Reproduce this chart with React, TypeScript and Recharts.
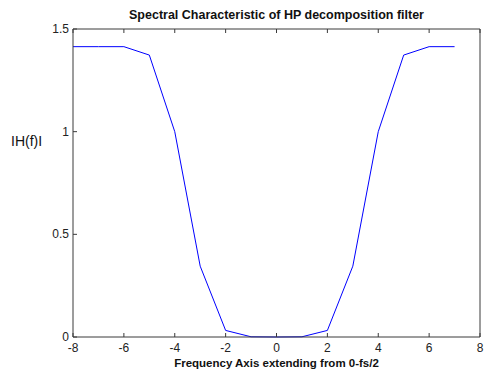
import React from "react";
import { LineChart, Line, XAxis, YAxis } from "recharts";

// normalized frequency bins, -fs/2 .. fs/2
const freqs = [-8, -7, -6, -5, -4, -3, -2, -1, 0, 1, 2, 3, 4, 5, 6, 7];
// |H(f)| of the HP decomposition filter
const magnitude = [
  1.414, 1.414, 1.414, 1.373, 1.0, 0.345, 0.032, 0.001, 0.0, 0.001, 0.032, 0.345,
  1.0, 1.373, 1.414, 1.414,
];
const xTicks = [-8, -6, -4, -2, 0, 2, 4, 6, 8];
const yTicks = [0, 0.5, 1, 1.5];

const data = freqs.map((f, i) => ({ f, h: magnitude[i] }));

const FONT = "'Liberation Sans', Arial, sans-serif";
const AXIS = "#3a3a3a";

const BottomTick = ({ x, y, payload }: any) => (
  <g>
    <line x1={x} x2={x} y1={y} y2={y - 4} stroke={AXIS} />
    <text
      x={x}
      y={y + 11}
      textAnchor="middle"
      dominantBaseline="central"
      fontSize={12}
      fontFamily={FONT}
      fill="#222"
    >
      {payload.value}
    </text>
  </g>
);

const TopTick = ({ x, y }: any) => (
  <line x1={x} x2={x} y1={y} y2={y + 4} stroke={AXIS} />
);

const LeftTick = ({ x, y, payload }: any) => (
  <g>
    <line x1={x} x2={x + 4} y1={y} y2={y} stroke={AXIS} />
    <text
      x={x - 4}
      y={y}
      textAnchor="end"
      dominantBaseline="central"
      fontSize={12}
      fontFamily={FONT}
      fill="#222"
    >
      {payload.value}
    </text>
  </g>
);

const RightTick = ({ x, y }: any) => (
  <line x1={x} x2={x - 4} y1={y} y2={y} stroke={AXIS} />
);

export default function App() {
  return (
    <div
      style={{
        position: "absolute",
        left: 0,
        top: 0,
        width: 484,
        height: 372,
        background: "#fff",
        fontFamily: FONT,
      }}
    >
      <div
        style={{
          position: "absolute",
          left: 73,
          width: 407,
          top: 8,
          textAlign: "center",
          fontSize: 12.5,
          fontWeight: "bold",
          color: "#111",
        }}
      >
        Spectral Characteristic of HP decomposition filter
      </div>
      <div
        style={{
          position: "absolute",
          left: 11,
          top: 133,
          fontSize: 14,
          color: "#111",
        }}
      >
        IH(f)I
      </div>
      <div
        style={{
          position: "absolute",
          left: 73,
          width: 407,
          top: 357,
          textAlign: "center",
          fontSize: 11.5,
          fontWeight: "bold",
          color: "#111",
        }}
      >
        Frequency Axis extending from 0-fs/2
      </div>
      <LineChart
        width={484}
        height={372}
        data={data}
        margin={{ top: 28, right: 3, bottom: 34, left: 72 }}
      >
        <XAxis
          dataKey="f"
          type="number"
          domain={[-8, 8]}
          ticks={xTicks}
          height={1}
          tickSize={0}
          tickMargin={0}
          tickLine={false}
          tick={<BottomTick />}
          stroke={AXIS}
          interval={0}
        />
        <XAxis
          xAxisId="top"
          orientation="top"
          dataKey="f"
          type="number"
          domain={[-8, 8]}
          ticks={xTicks}
          height={1}
          tickSize={0}
          tickMargin={0}
          tickLine={false}
          tick={<TopTick />}
          stroke={AXIS}
          interval={0}
        />
        <YAxis
          type="number"
          domain={[0, 1.5]}
          ticks={yTicks}
          width={1}
          tickSize={0}
          tickMargin={0}
          tickLine={false}
          tick={<LeftTick />}
          stroke={AXIS}
          interval={0}
        />
        <YAxis
          yAxisId="right"
          orientation="right"
          type="number"
          domain={[0, 1.5]}
          ticks={yTicks}
          width={1}
          tickSize={0}
          tickMargin={0}
          tickLine={false}
          tick={<RightTick />}
          stroke={AXIS}
          interval={0}
        />
        <Line
          type="linear"
          dataKey="h"
          stroke="#0000ff"
          strokeWidth={1}
          dot={false}
          isAnimationActive={false}
        />
      </LineChart>
    </div>
  );
}
